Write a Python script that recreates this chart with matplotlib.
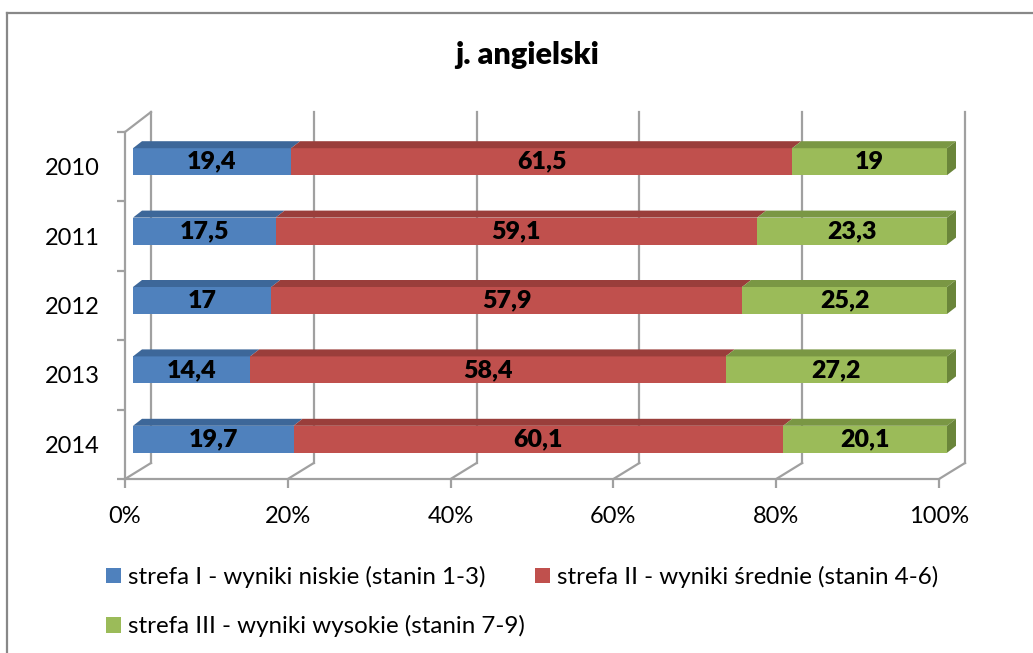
import numpy as np
import matplotlib
matplotlib.use('Agg')
import matplotlib.pyplot as plt
from matplotlib.patches import Polygon, Patch
from matplotlib.lines import Line2D

plt.rcParams['font.family'] = ['Lato', 'DejaVu Sans']

# data
years = ['2010', '2011', '2012', '2013', '2014']
low = [19.4, 17.5, 17, 14.4, 19.7]
mid = [61.5, 59.1, 57.9, 58.4, 60.1]
high = [19, 23.3, 25.2, 27.2, 20.1]
series_names = ['strefa I - wyniki niskie (stanin 1-3)',
                'strefa II - wyniki średnie (stanin 4-6)',
                'strefa III - wyniki wysokie (stanin 7-9)']
title = 'j. angielski'

# colours: front, top, side
front_cols = ['#4F81BD', '#C0504D', '#9BBB59']
top_cols = ['#3D6799', '#9A3E3B', '#7A9744']
side_cols = ['#30507A', '#7A302E', '#6A853A']
grid_col = '#a0a0a0'

W, H = 1033, 653
fig = plt.figure(figsize=(W / 100, H / 100), dpi=100)

# front plane of the 3d box (pixels)
fl, fr, ft, fb = 125, 939, 132, 479
ax = fig.add_axes([fl / W, 1 - fb / H, (fr - fl) / W, (fb - ft) / H])
ax.set_xlim(0, 100)
ax.set_ylim(4.5, -0.5)
ax.patch.set_alpha(0)

pxx = (fr - fl) / 100.0   # pixels per percent
pxy = (fb - ft) / 5.0     # pixels per category

def dx(p):
    return p / pxx

def dy(p):
    # upward shift in pixels -> data offset (axis inverted)
    return -p / pxy

# back wall and floor
wall_dx, floor_dy, top_dy = 26, 16, 20
for v in range(0, 101, 20):
    xb = v + dx(wall_dx)
    ax.plot([xb, xb], [4.5 + dy(floor_dy), -0.5 + dy(top_dy)], color=grid_col,
            lw=1.6, clip_on=False, zorder=1)
    ax.plot([v, xb], [4.5, 4.5 + dy(floor_dy)], color=grid_col, lw=1.6,
            clip_on=False, zorder=1)
ax.plot([0, dx(wall_dx)], [-0.5, -0.5 + dy(top_dy)], color=grid_col, lw=1.6,
        clip_on=False, zorder=1)

# bars
vals = np.array([low, mid, high], dtype=float)
shares = vals / vals.sum(axis=0) * 100
bh = 27 / pxy
fx, fy = dx(8), dy(5)
bx, by = dx(17), dy(12)
for i in range(len(years)):
    left = 0.0
    for s in range(3):
        x0, x1 = left, left + shares[s, i]
        yt = i - bh / 2 + fy
        yb = i + bh / 2 + fy
        face = Polygon([(x0 + fx, yt), (x1 + fx, yt), (x1 + fx, yb), (x0 + fx, yb)],
                       closed=True, facecolor=front_cols[s], edgecolor='none',
                       clip_on=False, zorder=3)
        ax.add_patch(face)
        top = Polygon([(x0 + fx, yt), (x1 + fx, yt), (x1 + bx, yt - fy + by),
                       (x0 + bx, yt - fy + by)], closed=True,
                      facecolor=top_cols[s], edgecolor='none', clip_on=False, zorder=3)
        ax.add_patch(top)
        if s == 2:
            side = Polygon([(x1 + fx, yt), (x1 + bx, yt - fy + by),
                            (x1 + bx, yb - fy + by), (x1 + fx, yb)], closed=True,
                           facecolor=side_cols[s], edgecolor='none', clip_on=False,
                           zorder=3)
            ax.add_patch(side)
        lab = ('%g' % vals[s, i]).replace('.', ',')
        ax.text((x0 + x1) / 2 + fx, i + fy, lab, ha='center', va='center',
                fontsize=18, fontweight='heavy', color='black', zorder=4)
        left = x1

# axes
for sp in ['top', 'right']:
    ax.spines[sp].set_visible(False)
for sp in ['left', 'bottom']:
    ax.spines[sp].set_color(grid_col)
    ax.spines[sp].set_linewidth(1.6)
ax.set_yticks(range(len(years)))
ax.set_yticklabels(years)
ax.set_yticks(np.arange(-0.5, 5, 1), minor=True)
ax.tick_params(axis='y', which='major', length=0, pad=18, labelsize=17)
ax.tick_params(axis='y', which='minor', length=6, width=1.6, color=grid_col)
ax.set_xticks(range(0, 101, 20))
ax.set_xticklabels(['%d%%' % v for v in range(0, 101, 20)])
ax.tick_params(axis='x', length=6.5, width=1.6, color=grid_col, pad=13, labelsize=17)

fig.text(527 / W, 1 - 55 / H, title, ha='center', va='center', fontsize=22,
         fontweight='heavy')

# legend (row order: I, II / III)
handles = [Patch(facecolor=c, edgecolor='none') for c in front_cols]
order = [0, 2, 1]
fig.legend([handles[k] for k in order], [series_names[k] for k in order],
           loc='upper left', bbox_to_anchor=(106 / W, 1 - 566 / H), ncol=2,
           frameon=False, fontsize=17.4, handlelength=0.62, handleheight=0.62,
           handletextpad=0.3, columnspacing=0.4, labelspacing=1.12,
           borderpad=0, borderaxespad=0)

# outer chart border (cropped at right and bottom)
fig.add_artist(Line2D([7 / W, 1], [1 - 13 / H, 1 - 13 / H], color='#888888', lw=1.6))
fig.add_artist(Line2D([7 / W, 7 / W], [0, 1 - 13 / H], color='#888888', lw=1.6))

fig.savefig('out.png', dpi=100)
